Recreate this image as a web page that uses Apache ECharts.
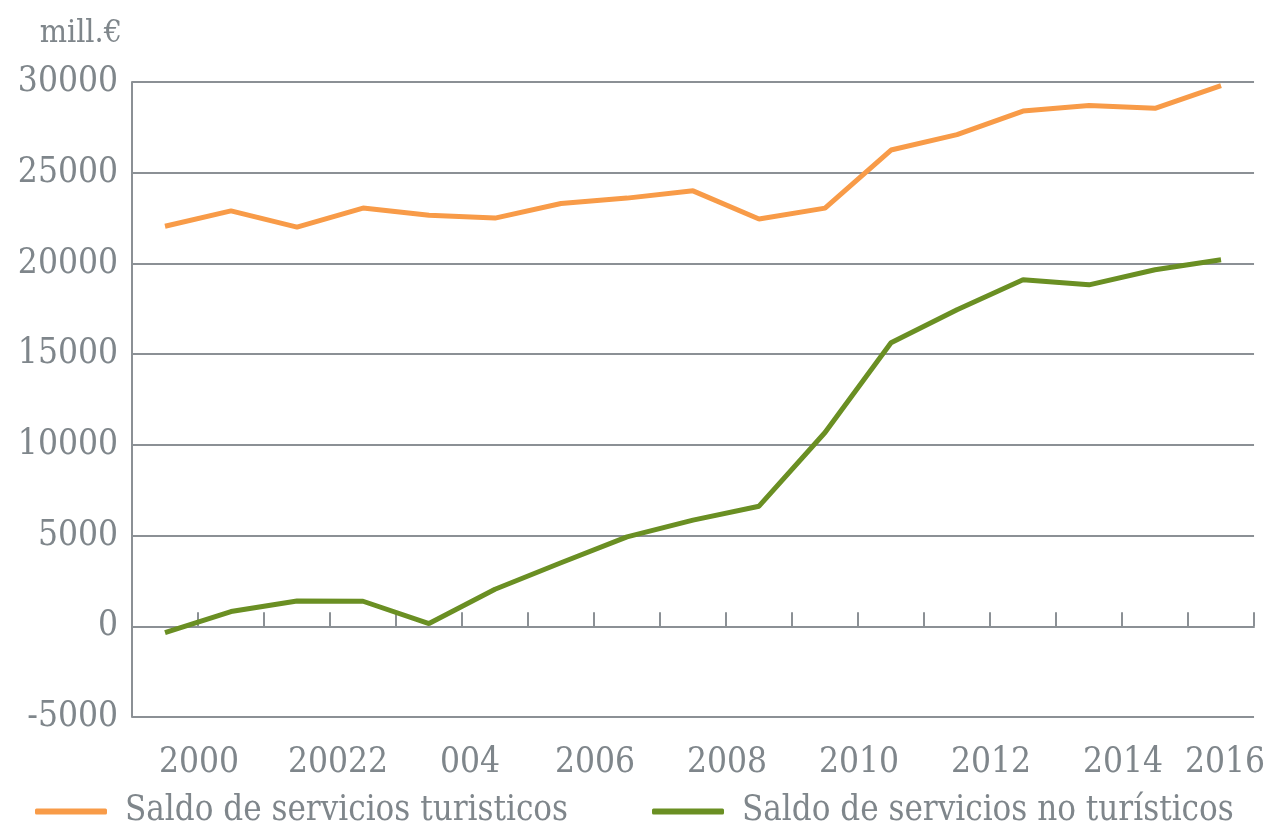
<!DOCTYPE html>
<html>
<head>
<meta charset="utf-8">
<script src="https://cdn.jsdelivr.net/npm/echarts@6/dist/echarts.min.js"></script>
<style>
	html, body { margin: 0; padding: 0; background: #fff; }
	#chart { width: 1268px; height: 823px; }
</style>
</head>
<body>
<div id="chart"></div>
<script>
// years on the category axis
var years = ['2000', '2001', '2002', '2003', '2004', '2005', '2006', '2007', '2008',
	'2009', '2010', '2011', '2012', '2013', '2014', '2015', '2016']
// labels as printed in the original (some overlap there)
var yearLabels = ['2000', '', '20022', '', '004', '', '2006', '', '2008',
	'', '2010', '', '2012', '', '2014', '', '2016']
var turisticos = [22050, 22900, 22000, 23050, 22650, 22500, 23300, 23600, 24000,
	22450, 23050, 26250, 27100, 28400, 28700, 28550, 29800]
var noTuristicos = [-350, 810, 1390, 1380, 150, 2040, 3500, 4930, 5850,
	6620, 10680, 15630, 17450, 19100, 18820, 19650, 20200]
var seriesNames = ['Saldo de servicios turisticos', 'Saldo de servicios no turísticos']

var gray = '#8b9095'
var textGray = '#7f868b'
var font = 'DejaVu Serif Condensed'
var axisSize = 35

var chart = echarts.init(document.getElementById('chart'))
chart.setOption({
	animation: false,
	grid: {
		left: 132,
		right: 11,
		top: 82,
		bottom: 106,
	},
	legend: {
		left: 35,
		top: 794,
		padding: 0,
		itemWidth: 72,
		itemHeight: 6,
		itemGap: 84,
		icon: 'roundRect',
		data: seriesNames,
		textStyle: {
			fontFamily: font,
			fontSize: 34.6,
			color: textGray,
			padding: [0, 0, 0, 13],
		},
	},
	xAxis: {
		type: 'category',
		data: years,
		boundaryGap: true,
		axisLine: {
			onZero: true,
			lineStyle: { color: gray, width: 2 },
		},
		axisTick: {
			show: true,
			inside: true,
			length: 14,
			lineStyle: { color: gray, width: 2 },
		},
		axisLabel: {
			interval: 0,
			margin: 28,
			fontFamily: font,
			fontSize: axisSize,
			color: textGray,
			formatter: function(value, idx) {
				var txt = yearLabels[idx]
				if (!txt) return ''
				if (idx === years.length - 1) return '{e|' + txt + '}'
				if (idx === 2 || idx === 4) return '{w|' + txt + '}'
				return '{s|' + txt + '}'
			},
			rich: {
				s: { fontFamily: font, fontSize: axisSize, color: textGray, padding: [0, 0, 0, 68] },
				w: { fontFamily: font, fontSize: axisSize, color: textGray, padding: [0, 0, 0, 82] },
				e: { fontFamily: font, fontSize: axisSize, color: textGray, padding: [0, 0, 0, 8] },
			},
		},
		splitLine: { show: false },
	},
	yAxis: {
		type: 'value',
		min: -5000,
		max: 30000,
		interval: 5000,
		name: 'mill.€',
		nameGap: 32,
		nameTextStyle: {
			fontFamily: font,
			fontSize: 32,
			color: textGray,
			align: 'right',
			padding: [0, 10, 0, 0],
		},
		axisLine: {
			show: true,
			lineStyle: { color: gray, width: 2 },
		},
		axisTick: { show: false },
		axisLabel: {
			margin: 14,
			fontFamily: font,
			fontSize: axisSize,
			color: textGray,
			formatter: function(v) {
				return String(v)
			},
		},
		splitLine: {
			show: true,
			lineStyle: { color: gray, width: 2 },
		},
	},
	series: [
		{
			name: seriesNames[0],
			type: 'line',
			data: turisticos,
			symbol: 'none',
			lineStyle: { color: '#f89b48', width: 5 },
			itemStyle: { color: '#f89b48' },
		},
		{
			name: seriesNames[1],
			type: 'line',
			data: noTuristicos,
			symbol: 'none',
			lineStyle: { color: '#6a8f23', width: 5 },
			itemStyle: { color: '#6a8f23' },
		},
	],
})
</script>
</body>
</html>
